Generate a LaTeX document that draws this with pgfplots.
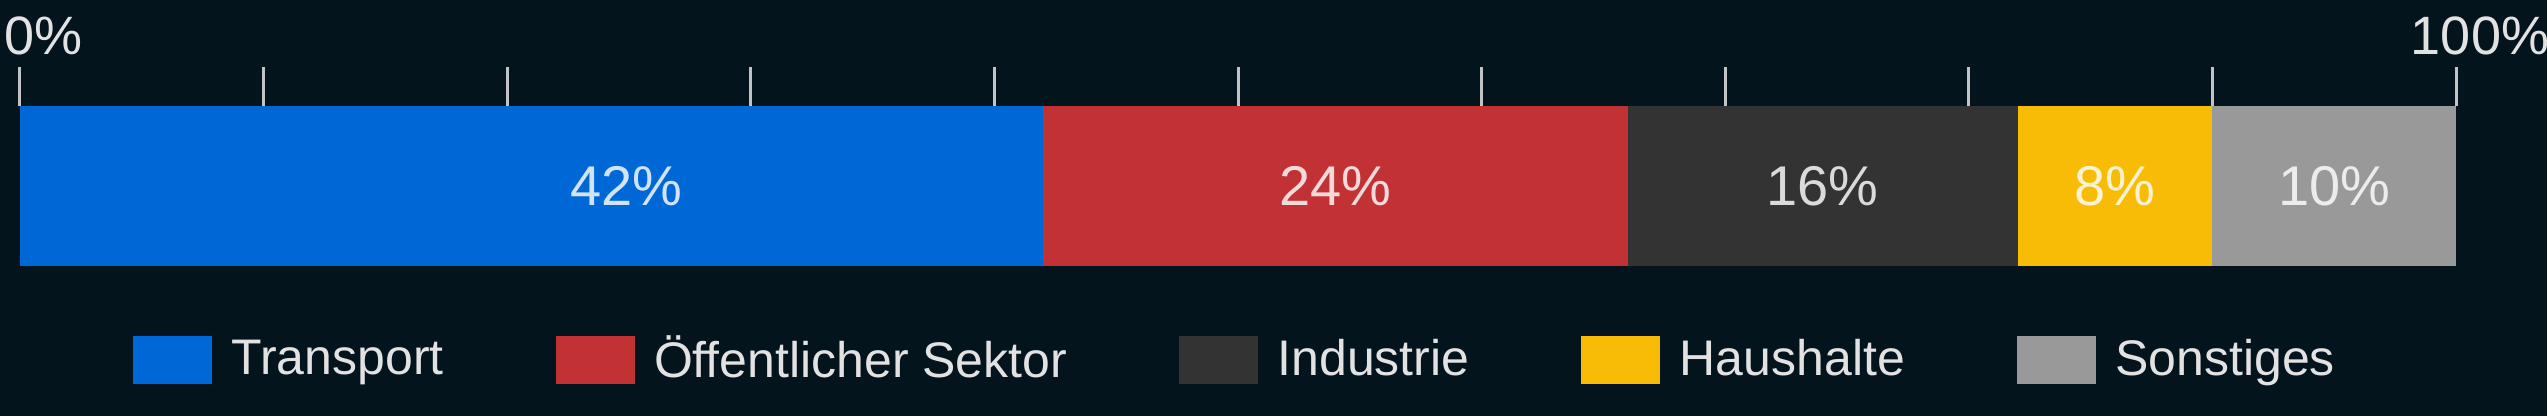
\documentclass[border=0pt]{standalone}
\usepackage{fontspec}
\setmainfont{Liberation Sans}
\usepackage{pgfplots}
\pgfplotsset{compat=1.18}

\definecolor{bg}{HTML}{03141C}
\definecolor{txt}{HTML}{E2E2E2}
\definecolor{cTransport}{HTML}{0068D6}
\definecolor{cOeff}{HTML}{C23234}
\definecolor{cInd}{HTML}{333333}
\definecolor{cHaus}{HTML}{F9BC06}
\definecolor{cSonst}{HTML}{999999}

\begin{document}
\begin{tikzpicture}
% 1 px of the reference = 0.25pt
\fill[bg] (0,0) rectangle (636.75pt,104pt);
\path[use as bounding box] (0,0) rectangle (636.75pt,104pt);
\begin{axis}[
    at={(5pt,37.5pt)}, anchor=south west,
    scale only axis,
    width=609pt, height=40pt,
    xbar stacked, bar width=40pt,
    xmin=0, xmax=100, ymin=-0.5, ymax=0.5,
    enlargelimits=false,
    axis line style={draw=none},
    ytick=\empty,
    xtick={0,10,...,100},
    xticklabels={0\%,{},{},{},{},{},{},{},{},{},100\%},
    xtick pos=right, xticklabel pos=right,
    tick align=outside,
    major tick length=9.75pt,
    major tick style={draw=txt!85!bg, line width=0.75pt},
    xticklabel style={anchor=base, yshift=3pt, xshift=6pt, text=txt,
      font=\fontsize{13.5}{16}\selectfont},
    legend columns=5,
    legend style={draw=none, fill=none, text=txt,
      font=\fontsize{12.5}{15}\selectfont,
      at={(0.5,0)}, anchor=center, yshift=-23.5pt,
      /tikz/every even column/.append style={column sep=26pt}},
    clip=false,
    after end axis/.code={
      \begin{scope}[every node/.style={text=white, text opacity=0.82,
          font=\fontsize{14}{16}\selectfont}]
      \node at (axis cs:24.9,0) {42\%};
      \node at (axis cs:54,0) {24\%};
      \node at (axis cs:74,0) {16\%};
      \node at (axis cs:86,0) {8\%};
      \node at (axis cs:95,0) {10\%};
      \end{scope}
    },
]
\addplot[fill=cTransport, draw=none,
  legend image code/.code={\fill[cTransport] (0pt,-6.1pt) rectangle (19.75pt,6.1pt); \path (22.6pt,0);}]
  coordinates {(42,0)};
\addlegendentry{Transport}
\addplot[fill=cOeff, draw=none,
  legend image code/.code={\fill[cOeff] (0pt,-6.1pt) rectangle (19.75pt,6.1pt); \path (22.6pt,0);}]
  coordinates {(24,0)};
\addlegendentry{Öffentlicher Sektor}
\addplot[fill=cInd, draw=none,
  legend image code/.code={\fill[cInd] (0pt,-6.1pt) rectangle (19.75pt,6.1pt); \path (22.6pt,0);}]
  coordinates {(16,0)};
\addlegendentry{Industrie}
\addplot[fill=cHaus, draw=none,
  legend image code/.code={\fill[cHaus] (0pt,-6.1pt) rectangle (19.75pt,6.1pt); \path (22.6pt,0);}]
  coordinates {(8,0)};
\addlegendentry{Haushalte}
\addplot[fill=cSonst, draw=none,
  legend image code/.code={\fill[cSonst] (0pt,-6.1pt) rectangle (19.75pt,6.1pt); \path (22.6pt,0);}]
  coordinates {(10,0)};
\addlegendentry{Sonstiges}
\end{axis}
\end{tikzpicture}
\end{document}
